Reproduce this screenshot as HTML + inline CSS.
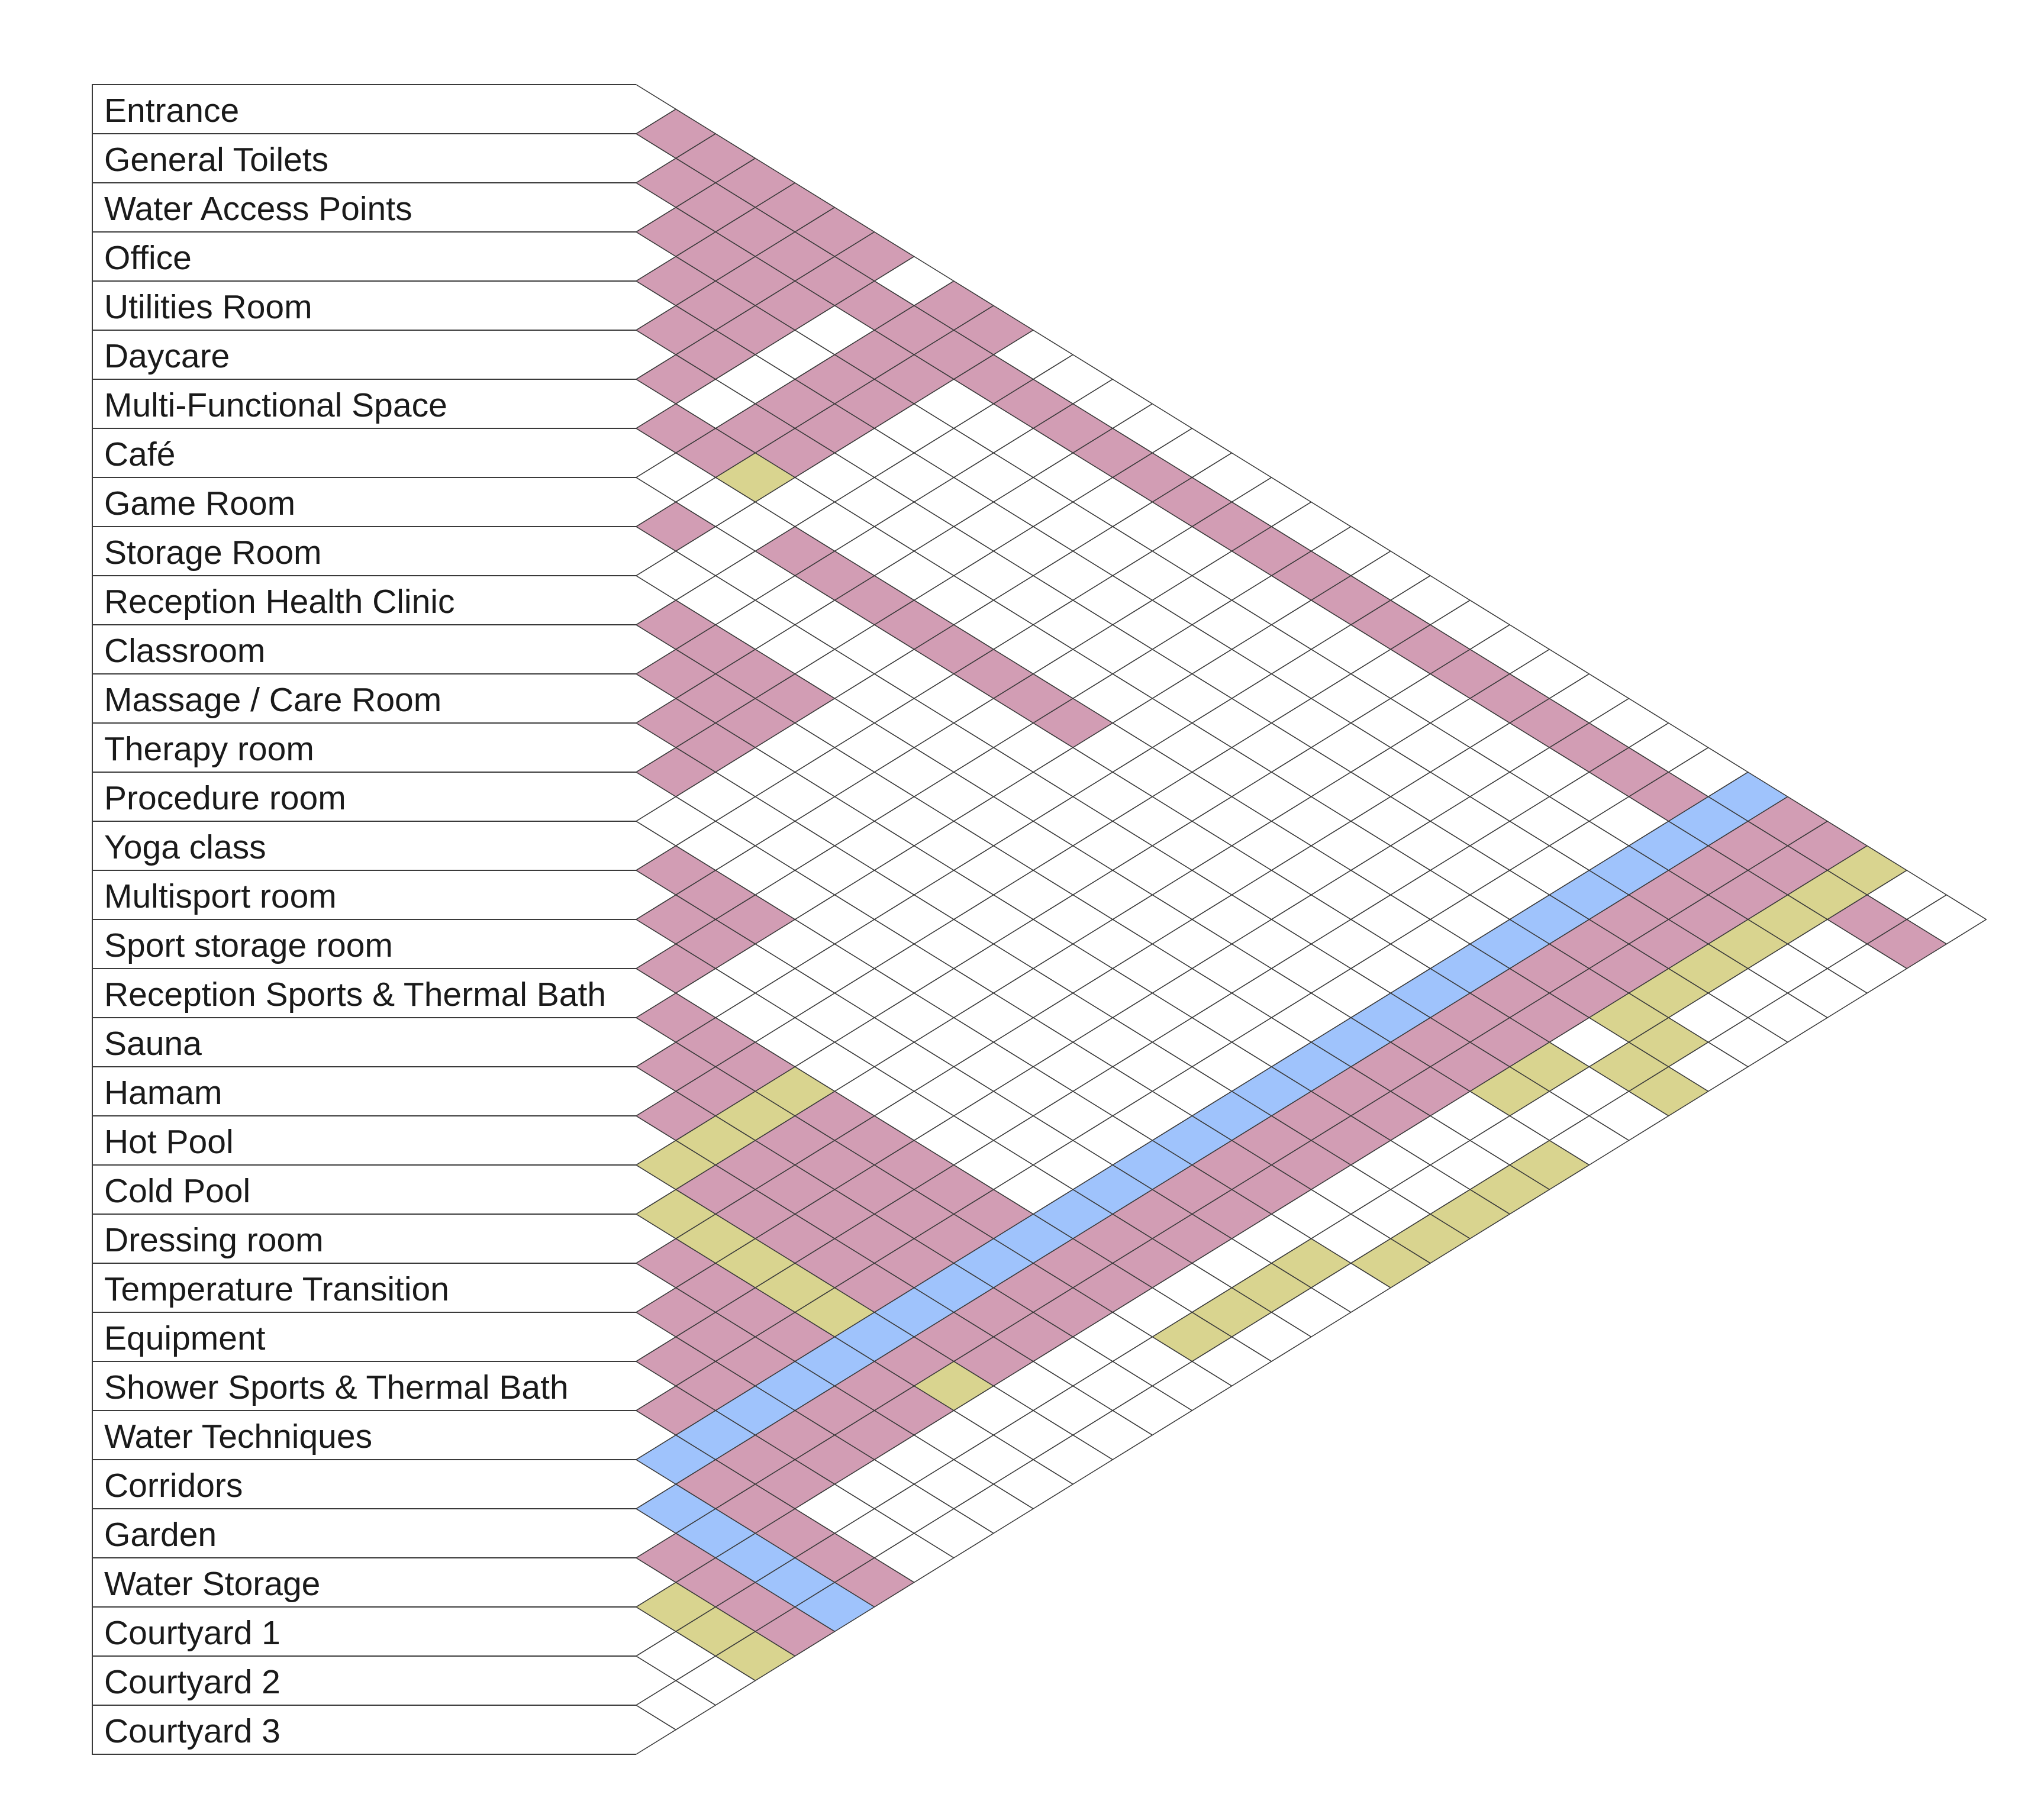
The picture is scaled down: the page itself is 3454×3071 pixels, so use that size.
<!DOCTYPE html>
<html>
<head>
<meta charset="utf-8">
<style>
  html,body{margin:0;padding:0;background:#fff;}
  svg{display:block;}
  text{font-family:"Liberation Sans",sans-serif;}
</style>
</head>
<body>
<svg id="chart" xmlns="http://www.w3.org/2000/svg" width="3454" height="3071" viewBox="0 0 3454 3071">
  <rect x="0" y="0" width="3454" height="3071" fill="#ffffff"/>
  <g id="labels"></g>
  <g id="cells"></g>
</svg>
<script>
const labels = [
  "Entrance","General Toilets","Water Access Points","Office","Utilities Room","Daycare",
  "Multi-Functional Space","Café","Game Room","Storage Room","Reception Health Clinic",
  "Classroom","Massage / Care Room","Therapy room","Procedure room","Yoga class",
  "Multisport room","Sport storage room","Reception Sports & Thermal Bath","Sauna","Hamam",
  "Hot Pool","Cold Pool","Dressing room","Temperature Transition","Equipment",
  "Shower Sports & Thermal Bath","Water Techniques","Corridors","Garden","Water Storage",
  "Courtyard 1","Courtyard 2","Courtyard 3"
];
// Relationship codes per row i, for partners j = i+1 .. 33
// P = pink relation, Y = yellow relation, B = blue relation, . = none
const rowCodes = [
  "PPPPPP.PP" + ".................." + "BPPY..",
  "PPPPPPPPPPPPPPPPPPPPPPPPPP" + "BPPYPP",
  "PPPP.PP" + ".................." + "BPPY..",
  "PPP.PP" + ".................." + "BPPY..",
  "PP.PP" + ".................." + "BPPY..",
  "P.PP" + ".................." + "BPPY..",
  "PPY" + ".................." + "BPPYY.",
  "...PPPPPPPP........." + "BPP.YY",
  "P" + ".................." + "BPPY..",
  ".................." + "BPPY..",
  "PPPP" + "............." + "BPP..Y",
  "PPP" + "............." + "BPP..Y",
  "PP" + "............." + "BPP..Y",
  "P" + "............." + "BPP..Y",
  "............." + "BPP..Y",
  "PPP" + "........." + "BPP.Y.",
  "PP" + "........." + "BPP.Y.",
  "P" + "........." + "BPP.Y.",
  "PPPYPPPPPBPP.Y.",
  "PPYPPPPPBPP...",
  "PYPPPPPBPP...",
  "YPPPPPBPP...",
  "YYYYYBPY...",
  "PPPPBPP...",
  "PPPBPP...",
  "PPBPP...",
  "PBPP...",
  "BPPPPP",
  "BBBBB",
  "PPPP",
  "YYY",
  "..",
  ".",
  ""
];
const fills = {P:"#d29db4", Y:"#d9d48f", B:"#9fc3fc", ".":"#ffffff"};
const kinds = {P:"pink", Y:"yellow", B:"blue", ".":"empty"};

// geometry
const X_LEFT = 156, X_EDGE = 1075, Y_TOP = 143, ROW_H = 83.0, HALF_W = 67.1;
const LINE = "#3a3a3a";
function rowTop(i){ return Y_TOP + ROW_H*i; }
function xOf(d){ return X_EDGE + HALF_W*d; }
function yOf(s){ return Y_TOP + ROW_H*(s/2 + 0.5); }

const NS = "http://www.w3.org/2000/svg";
const gL = document.getElementById("labels");
const gC = document.getElementById("cells");
const n = labels.length;

for (let i=0;i<n;i++){
  const t = rowTop(i), b = rowTop(i+1);
  const box = document.createElementNS(NS,"path");
  box.setAttribute("d",`M${X_EDGE},${t} L${X_LEFT},${t} L${X_LEFT},${b} L${X_EDGE},${b}`);
  box.setAttribute("fill","#ffffff");
  box.setAttribute("stroke",LINE);
  box.setAttribute("stroke-width","2");
  
  
  gL.appendChild(box);
  const tri = document.createElementNS(NS,"path");
  tri.setAttribute("d",`M${X_EDGE},${t} L${X_EDGE+HALF_W},${(t+b)/2} L${X_EDGE},${b}`);
  tri.setAttribute("fill","none");
  tri.setAttribute("stroke",LINE);
  tri.setAttribute("stroke-width","1.6");
  
  
  gL.appendChild(tri);
  const tx = document.createElementNS(NS,"text");
  tx.setAttribute("x", 176);
  tx.setAttribute("y", t + 63);
  tx.setAttribute("font-size","57");
  tx.setAttribute("fill","#1a1a1a");
  tx.textContent = labels[i];
  
  
  gL.appendChild(tx);
}

for (let i=0;i<n;i++){
  const code = rowCodes[i] || "";
  for (let k=0;k<code.length;k++){
    const j = i+1+k;
    const c = code[k] || ".";
    const cx = xOf(j-i), cy = yOf(i+j);
    const p = document.createElementNS(NS,"polygon");
    p.setAttribute("points",
      `${cx-HALF_W},${cy} ${cx},${cy-ROW_H/2} ${cx+HALF_W},${cy} ${cx},${cy+ROW_H/2}`);
    p.setAttribute("fill", fills[c]);
    p.setAttribute("stroke", LINE);
    p.setAttribute("stroke-width","1.6");
    p.setAttribute("stroke-linejoin","round");
    
    
    gC.appendChild(p);
  }
}
</script>
</body>
</html>
